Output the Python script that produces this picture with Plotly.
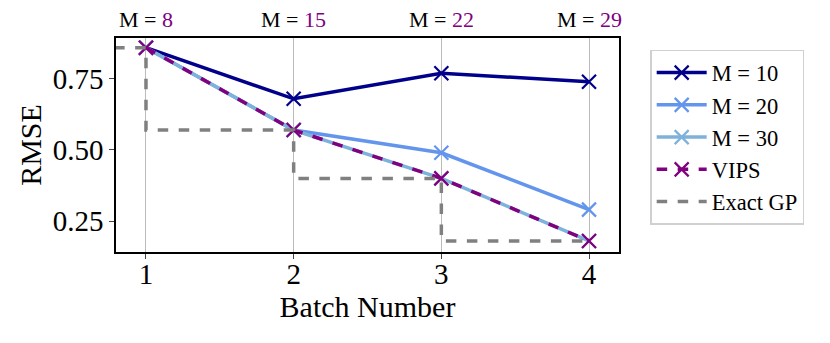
import plotly.graph_objects as go

batches = [1, 2, 3, 4]
rmse_m10 = [0.86, 0.68, 0.77, 0.74]
rmse_m20 = [0.86, 0.57, 0.49, 0.29]
rmse_m30 = [0.86, 0.57, 0.40, 0.18]
rmse_vips = [0.86, 0.57, 0.40, 0.18]
exact_x = [0.5, 1, 2, 3, 4]
exact_gp = [0.86, 0.57, 0.40, 0.18, 0.18]
vips_m = ["8", "15", "22", "29"]

font = "Liberation Serif, Times New Roman, serif"

def series(y, name, color, dash="solid"):
    return go.Scatter(
        x=batches, y=y, name=name, mode="lines+markers",
        line=dict(color=color, width=3.5, dash=dash),
        marker=dict(symbol="x-thin-open", size=14, line=dict(color=color, width=2.2)),
    )

traces = [
    series(rmse_m10, "M = 10", "#00008B"),
    series(rmse_m20, "M = 20", "#6495ED"),
    series(rmse_m30, "M = 30", "#7EB2DA"),
    series(rmse_vips, "VIPS", "#800080", dash="dash"),
    go.Scatter(
        x=exact_x, y=exact_gp, name="Exact GP", mode="lines",
        line=dict(color="#808080", width=3.5, dash="dash", shape="hv"),
    ),
]

# page body has an 8px margin, so the figure is a bit smaller than the window
layout = go.Layout(
    width=822, height=335,
    margin=dict(l=108, r=211, t=30, b=91),
    paper_bgcolor="white", plot_bgcolor="white",
    font=dict(family=font, color="black", size=28),
    xaxis=dict(
        range=[0.797, 4.203], tickvals=batches, showgrid=True,
        gridcolor="#BBBBBB", gridwidth=1, showline=True, linecolor="black",
        linewidth=1.5, mirror=True, ticks="outside", ticklen=5, tickwidth=1.2,
        tickfont=dict(size=29), zeroline=False, automargin=False,
        ticklabelstandoff=-10,
        title=dict(text="Batch Number", font=dict(size=30), standoff=6),
    ),
    yaxis=dict(
        range=[0.141, 0.894], tickvals=[0.25, 0.5, 0.75], tickformat=".2f",
        showgrid=False, showline=True, linecolor="black", linewidth=1.5,
        mirror=True, ticks="outside", ticklen=5, tickwidth=1.2,
        tickfont=dict(size=29), zeroline=False, automargin=False,
        title=dict(text="RMSE", font=dict(size=30), standoff=2),
    ),
    legend=dict(
        x=1.062, y=0.944, xanchor="left", yanchor="top",
        bordercolor="#D0D0D0", borderwidth=1.5,
        font=dict(size=22.5), itemwidth=50, tracegroupgap=0,
    ),
    annotations=[
        dict(x=b, y=1.0, xref="x", yref="paper", yanchor="bottom", showarrow=False,
             text="M = <span style='color:#800080'>" + m + "</span>",
             font=dict(size=22), yshift=4)
        for b, m in zip(batches, vips_m)
    ],
)

fig = go.Figure(traces, layout)
fig.write_html("out.html")
